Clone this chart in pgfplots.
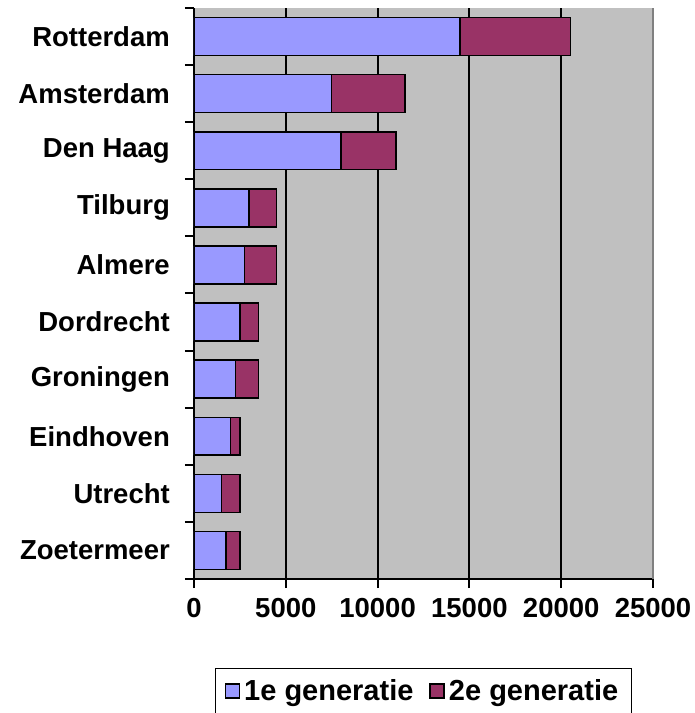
\documentclass[border=0pt]{standalone}
\usepackage{fontspec}
\setmainfont{Liberation Sans}
\usepackage{pgfplots}
\pgfplotsset{compat=1.18}
\definecolor{bargray}{HTML}{C0C0C0}
\definecolor{firstgen}{HTML}{9999FF}
\definecolor{secondgen}{HTML}{993366}
\newcommand{\lblfont}{\bfseries\fontsize{27.5}{33}\selectfont}
\newcommand{\legfont}{\bfseries\fontsize{29}{34}\selectfont}
\begin{document}
\begin{tikzpicture}
\useasboundingbox (0,0) rectangle (695pt,713pt);
\begin{axis}[
  at={(194pt,134pt)}, anchor=south west,
  scale only axis, width=459pt, height=571pt,
  xbar stacked, bar width=0.665,
  xmin=0, xmax=25000, ymin=-0.5, ymax=9.5,
  axis x line*=bottom, axis y line*=left,
  axis line style={black, line width=2pt, -},
  axis background/.style={fill=bargray},
  tick align=outside, major tick length=9pt,
  tick style={black, line width=2pt},
  scaled x ticks=false,
  xtick={0,5000,10000,15000,20000},
  extra x ticks={25000}, extra x tick style={grid=none},
  xmajorgrids, major grid style={black, line width=1.9pt},
  /pgf/number format/1000 sep={},
  /pgf/number format/assume math mode=true,
  xticklabel style={font=\lblfont, inner sep=0pt, yshift=-10pt},
  ytick={-0.5,0.5,...,9.5}, yticklabels={},
  extra y ticks={0,1,2,3,4,5,6,7,8,9},
  extra y tick labels={Zoetermeer,Utrecht,Eindhoven,Groningen,Dordrecht,Almere,Tilburg,Den Haag,Amsterdam,Rotterdam},
  extra y tick style={tick style={draw=none}, grid=none,
    yticklabel style={font=\lblfont, inner sep=0pt, anchor=east, xshift=-15pt}},
  legend style={at={(0.5,-0.1559)}, anchor=north, legend columns=2,
    draw=black, line width=1.4pt, font=\legfont,
    inner xsep=9pt, inner ysep=9pt,
    nodes={inner xsep=4pt, inner ysep=2pt},
    /tikz/every even column/.append style={column sep=12pt}},
  legend image code/.code={\draw[#1, line width=1.5pt] (0pt,-7pt) rectangle (14pt,7pt);},
]
\addplot+[fill=firstgen, draw=black, line width=1.5pt] coordinates {
  (1750,0) (1500,1) (2000,2) (2250,3) (2500,4) (2750,5) (3000,6) (8000,7) (7500,8) (14500,9)};
\addplot+[fill=secondgen, draw=black, line width=1.5pt] coordinates {
  (750,0) (1000,1) (500,2) (1250,3) (1000,4) (1750,5) (1500,6) (3000,7) (4000,8) (6000,9)};
\legend{1e generatie,2e generatie}
\end{axis}
\draw[gray, line width=1.5pt] (653pt,134pt) -- (653pt,705pt);
\end{tikzpicture}
\end{document}
